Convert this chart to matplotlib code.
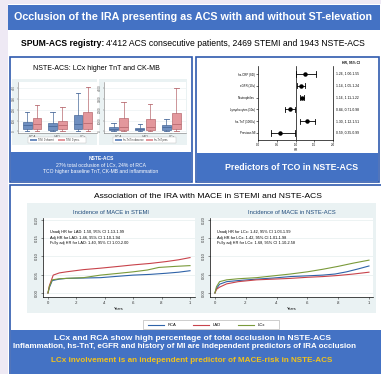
import matplotlib
matplotlib.use("Agg")
import matplotlib.pyplot as plt
from matplotlib.patches import Rectangle
from matplotlib.lines import Line2D

plt.rcParams['font.family'] = ['Liberation Sans', 'DejaVu Sans']

# ---------------- data ----------------
arteries = ['RCA', 'LAD', 'LCx']
# box stats per artery: [whisker low, q1, median, q3, whisker high]
ckmb_no_tco = [[0, 20, 55, 90, 180], [0, 15, 45, 80, 180], [0, 20, 65, 155, 350]]
ckmb_tco = [[0, 20, 65, 120, 245], [0, 20, 55, 100, 225], [0, 20, 80, 180, 410]]
tnt_no_tco = [[0, 90, 180, 360, 730], [0, 90, 180, 270, 640], [0, 90, 360, 550, 1100]]
tnt_tco = [[0, 90, 360, 1270, 2700], [0, 90, 360, 1100, 2550], [0, 180, 640, 1730, 4000]]
ckmb_ticks = [0, 100, 200, 300, 400]
tnt_ticks = [0, 1000, 2000, 3000, 4000]
box_legend_ckmb = ['TIMI 0 absent', 'TIMI 0 pres.']
box_legend_tnt = ['hs-TnT in absence', 'hs-TnT pres.']

forest_labels = ['hs-CRP (SD)', 'eGFR (10u)', 'Neutrophiles', 'Lymphocytes (10u)',
                 'hs-TnT (1000u)', 'Previous MI']
forest_hr = [1.26, 1.14, 1.16, 0.84, 1.30, 0.59]
forest_lo = [1.00, 1.05, 1.11, 0.71, 1.12, 0.35]
forest_hi = [1.55, 1.24, 1.22, 0.98, 1.51, 0.99]
forest_xticks = [0.0, 0.5, 1.0, 1.5, 2.0]

km_groups = ['RCA', 'LAD', 'LCx']
stemi_t_rca = [0, 0.01, 0.03, 0.08, 0.13, 0.25, 0.37, 0.5, 0.6, 0.72, 0.83, 0.92, 1.0]
stemi_y_rca = [0, 0.015, 0.034, 0.038, 0.040, 0.041, 0.042, 0.046, 0.049, 0.051, 0.054, 0.057, 0.061]
stemi_t_lad = [0, 0.01, 0.037, 0.08, 0.13, 0.25, 0.37, 0.5, 0.6, 0.72, 0.83, 0.92, 1.0]
stemi_y_lad = [0, 0.02, 0.049, 0.055, 0.058, 0.064, 0.068, 0.073, 0.077, 0.081, 0.086, 0.091, 0.097]
stemi_t_lcx = [0, 0.01, 0.03, 0.08, 0.13, 0.25, 0.37, 0.5, 0.6, 0.7, 0.78, 0.9, 1.0]
stemi_y_lcx = [0, 0.018, 0.036, 0.039, 0.040, 0.042, 0.049, 0.054, 0.058, 0.063, 0.070, 0.073, 0.075]
nste_t_rca = [0, 0.01, 0.03, 0.076, 0.15, 0.27, 0.38, 0.49, 0.6, 0.7, 0.78, 0.855, 0.93, 1.0]
nste_y_rca = [0, 0.012, 0.024, 0.031, 0.034, 0.038, 0.041, 0.045, 0.047, 0.049, 0.052, 0.058, 0.066, 0.074]
nste_t_lad = [0, 0.01, 0.03, 0.076, 0.15, 0.27, 0.38, 0.49, 0.6, 0.7, 0.8, 0.9, 1.0]
nste_y_lad = [0, 0.010, 0.016, 0.025, 0.031, 0.036, 0.038, 0.040, 0.043, 0.045, 0.048, 0.052, 0.057]
nste_t_lcx = [0, 0.01, 0.03, 0.076, 0.15, 0.27, 0.38, 0.49, 0.6, 0.7, 0.8, 0.9, 1.0]
nste_y_lcx = [0, 0.017, 0.031, 0.036, 0.039, 0.042, 0.047, 0.052, 0.058, 0.065, 0.073, 0.082, 0.090]
km_xticks = [0, 0.2, 0.4, 0.6, 0.8, 1.0]
km_xticklabels = ['0', '.2', '.4', '.6', '.8', '1']
km_yticks = [0.0, 0.05, 0.10, 0.15, 0.20]
stemi_notes = ['Unadj HR for LAD: 1.50, 95% CI 1.13-1.99',
               'Adj HR for LAD: 1.46, 95% CI 1.10-1.94',
               'Fully adj HR for LAD: 1.40, 95% CI 1.00-2.00']
nste_notes = ['Unadj HR for LCx: 1.42, 95% CI 1.03-1.99',
              'Adj HR for LCx: 1.42, 95% CI 1.01-1.98',
              'Fully adj HR for LCx: 1.68, 95% CI 1.10-2.58']

# ---------------- layout helpers ----------------
W, H = 381, 374
fig = plt.figure(figsize=(W / 100, H / 100), dpi=100)

BLUE = '#4472C4'
BORDER = '#2F5AAE'
LAV = '#EEE9F4'
STATA_BG = '#EAF2F3'
C_RCA = '#2F63A8'
C_LAD = '#C8434B'
C_LCX = '#7A9A3A'


def rect(x0, y0, x1, y1):
    return [x0 / W, 1 - y1 / H, (x1 - x0) / W, (y1 - y0) / H]


def box(x0, y0, x1, y1, fc='none', ec='none', lw=0, z=0):
    r = Rectangle((x0 / W, 1 - y1 / H), (x1 - x0) / W, (y1 - y0) / H,
                  transform=fig.transFigure, facecolor=fc, edgecolor=ec,
                  linewidth=lw, zorder=z)
    fig.patches.append(r)


def txt(x, y, s, **kw):
    return fig.text(x / W, 1 - y / H, s, ha=kw.pop('ha', 'center'), va=kw.pop('va', 'center'), **kw)


fig.patch.set_facecolor(LAV)
box(8, 0, W, H, fc='white')
box(8, 0, W, 4, fc=LAV)

# title bar
box(8, 5, 380, 30, fc=BLUE)
txt(193, 17.5, 'Occlusion of the IRA presenting as ACS with and without ST-elevation',
    color='white', fontsize=7.75, fontweight='bold')

# subtitle built from two runs
renderer = fig.canvas.get_renderer()
tb = txt(21, 43, 'SPUM-ACS registry:', ha='left', fontsize=6.2, fontweight='bold', color='black')
bb = tb.get_window_extent(renderer=renderer)
txt(bb.x1 + 1.5, 43, "4'412 ACS consecutive patients, 2469 STEMI and 1943 NSTE-ACS", ha='left',
    fontsize=6.2, color='black')

# panels
box(10, 57, 192, 182, fc='white', ec=BORDER, lw=1.2, z=1)
box(10.6, 152, 191.4, 181.4, fc=BLUE, z=1.1)
box(196, 57, 379, 182, fc='white', ec=BORDER, lw=1.2, z=1)
box(196.6, 153, 378.4, 181.4, fc=BLUE, z=1.1)
box(10, 185, 383, 376, fc='white', ec=BORDER, lw=1.2, z=1)
box(10.6, 330, 382, 375, fc=BLUE, z=1.1)

# ---------------- box plots ----------------
txt(96, 69, 'NSTE-ACS: LCx higher TnT and CK-MB', fontsize=5.0, zorder=3)
box(12, 79, 97, 145, fc=STATA_BG, z=1.5)
box(99, 79, 187, 145, fc=STATA_BG, z=1.5)


def boxpanel(r, s_no, s_yes, ticks, ylim):
    ax = fig.add_axes(rect(*r))
    ax.set_zorder(3)
    ax.set_facecolor('white')
    for i, (a, b) in enumerate(zip(s_no, s_yes)):
        for st, off, fc, ec in [(a, -0.19, '#6F8FC0', '#4A6A9A'), (b, 0.19, '#E3979C', '#B86A70')]:
            ax.bxp([dict(whislo=st[0], q1=st[1], med=st[2], q3=st[3], whishi=st[4], fliers=[])],
                   positions=[i + 1 + off], widths=0.34, patch_artist=True, showfliers=False,
                   boxprops=dict(facecolor=fc, edgecolor=ec, linewidth=0.5),
                   medianprops=dict(color=ec, linewidth=0.6),
                   whiskerprops=dict(color=ec, linewidth=0.5),
                   capprops=dict(color=ec, linewidth=0.6), capwidths=0.17)
    ax.set_xlim(0.45, 3.55)
    ax.set_ylim(*ylim)
    ax.set_yticks(ticks)
    ax.set_yticklabels([str(t) for t in ticks], rotation=90, va='center', fontsize=2.2)
    ax.set_xticks([1, 2, 3])
    ax.set_xticklabels(arteries, fontsize=2.6)
    ax.tick_params(length=1, width=0.3, pad=0.8, colors='#555555')
    for sp in ['top', 'right']:
        ax.spines[sp].set_visible(False)
    for sp in ['left', 'bottom']:
        ax.spines[sp].set_linewidth(0.4)
        ax.spines[sp].set_color('#777777')
    ax.yaxis.grid(True, color='#E6EEEF', linewidth=0.4)
    ax.set_axisbelow(True)
    return ax


boxpanel((18, 82, 97, 133), ckmb_no_tco, ckmb_tco, ckmb_ticks, (-15, 455))
boxpanel((104, 82, 186, 133), tnt_no_tco, tnt_tco, tnt_ticks, (-150, 4550))

for (lx0, lx1, leg) in [(28, 86, box_legend_ckmb), (113, 176, box_legend_tnt)]:
    box(lx0, 137, lx1, 143, fc='white', ec='#BBBBBB', lw=0.3, z=3)
    mid = (lx0 + lx1) / 2
    box(lx0 + 2, 138.6, lx0 + 9, 141.4, fc='#6F8FC0', z=3.2)
    txt(lx0 + 10, 140, leg[0], ha='left', fontsize=1.8, color='#333333', zorder=3.2)
    box(mid + 1, 138.6, mid + 8, 141.4, fc='#E3979C', z=3.2)
    txt(mid + 9, 140, leg[1], ha='left', fontsize=1.8, color='#333333', zorder=3.2)

txt(101, 158.5, 'NSTE-ACS', fontsize=3.6, fontweight='bold', color='white', zorder=3)
txt(101, 165, '27% total occlusion of LCx, 24% of RCA', fontsize=3.6, color='white', zorder=3)
txt(101, 171.5, 'TCO higher baseline TnT, CK-MB and inflammation', fontsize=3.6, color='white', zorder=3)

# ---------------- forest plot ----------------
axf = fig.add_axes(rect(258, 66, 333, 140))
axf.set_zorder(3)
n = len(forest_labels)
ypos = list(range(n, 0, -1))
for yv, hr, lo, hi in zip(ypos, forest_hr, forest_lo, forest_hi):
    axf.plot([lo, hi], [yv, yv], color='black', lw=0.6)
    axf.plot([lo, lo], [yv - 0.22, yv + 0.22], color='black', lw=0.6)
    axf.plot([hi, hi], [yv - 0.22, yv + 0.22], color='black', lw=0.6)
    axf.plot([hr], [yv], 'o', color='black', ms=2.2)
axf.axvline(1.0, color='black', lw=0.5)
axf.set_xlim(0, 2)
axf.set_ylim(0.4, n + 0.68)
axf.set_yticks(ypos)
axf.set_yticklabels(forest_labels, fontsize=2.1)
axf.set_xticks(forest_xticks)
axf.set_xticklabels(['%.1f' % v for v in forest_xticks], fontsize=2.2)
axf.set_xlabel('HR', fontsize=2.2, labelpad=1)
axf.tick_params(length=1.2, width=0.4, pad=1)
axf.spines['top'].set_visible(False)
for sp in ['left', 'right', 'bottom']:
    axf.spines[sp].set_linewidth(0.5)
txt(342, 62, 'HR, 95% CI', ha='left', fontsize=2.4, fontweight='bold', zorder=3)
for yv, hr, lo, hi in zip(ypos, forest_hr, forest_lo, forest_hi):
    ypix = 140 - (yv - 0.4) / (n + 0.68 - 0.4) * (140 - 66)
    txt(336, ypix, '%.2f, %.2f-%.2f' % (hr, lo, hi), ha='left', fontsize=2.4, zorder=3)

txt(292, 167.5, 'Predictors of TCO in NSTE-ACS', fontsize=6.3, fontweight='bold', color='white', zorder=3)

# ---------------- KM curves ----------------
txt(208, 196, 'Association of the IRA with MACE in STEMI and NSTE-ACS', fontsize=6.1, zorder=3)
box(27, 203, 376, 313, fc=STATA_BG, z=1.5)


def kmpanel(r, xlim, title, tx, curves, notes):
    ax = fig.add_axes(rect(*r))
    ax.set_zorder(3)
    for t, y, c in curves:
        ax.plot(t, y, color=c, lw=0.8)
    ax.set_xlim(*xlim)
    ax.set_ylim(-0.011, 0.2055)
    ax.set_xticks(km_xticks)
    ax.set_xticklabels(km_xticklabels, fontsize=3)
    ax.set_yticks(km_yticks)
    ax.set_yticklabels(['%.2f' % v for v in km_yticks], rotation=90, va='center', fontsize=3)
    ax.set_xlabel('Years', fontsize=2.8, labelpad=1)
    ax.tick_params(length=1.5, width=0.4, pad=1.5, colors='#333333')
    for sp in ['top', 'right']:
        ax.spines[sp].set_visible(False)
    for sp in ['left', 'bottom']:
        ax.spines[sp].set_linewidth(0.5)
    ax.yaxis.grid(True, color='#E6EEEF', linewidth=0.5)
    ax.set_axisbelow(True)
    for i, s in enumerate(notes):
        ax.text(0.015, 0.168 - i * 0.016, s, fontsize=2.8, va='center', ha='left')
    txt(tx, 212.5, title, fontsize=4.2, color='#1E4A7A', zorder=3)
    return ax


kmpanel((43, 218, 195, 297), (-0.035, 1.035), 'Incidence of MACE in STEMI', 111,
        [(stemi_t_rca, stemi_y_rca, C_RCA), (stemi_t_lad, stemi_y_lad, C_LAD),
         (stemi_t_lcx, stemi_y_lcx, C_LCX)], stemi_notes)
kmpanel((210, 218, 373, 297), (-0.032, 1.026), 'Incidence of MACE in NSTE-ACS', 292,
        [(nste_t_rca, nste_y_rca, C_RCA), (nste_t_lad, nste_y_lad, C_LAD),
         (nste_t_lcx, nste_y_lcx, C_LCX)], nste_notes)

# legend
box(143, 320, 279, 329, fc='white', ec='#AAAAAA', lw=0.4, z=3)
for i, (g, c) in enumerate(zip(km_groups, [C_RCA, C_LAD, C_LCX])):
    x0 = 148 + i * 45
    fig.lines.append(Line2D([x0 / W, (x0 + 16) / W], [1 - 324.5 / H] * 2, color=c, lw=0.8,
                            transform=fig.transFigure, zorder=3.2))
    txt(x0 + 20, 324.5, g, ha='left', fontsize=3, zorder=3.2)

txt(193, 338, 'LCx and RCA show high percentage of total occlusion in NSTE-ACS',
    fontsize=6.1, fontweight='bold', color='white', zorder=3)
txt(13, 346, 'Inflammation, hs-TnT, eGFR and history of MI are independent predictors of IRA occlusion',
    ha='left', fontsize=5.75, fontweight='bold', color='white', zorder=3)
txt(192, 361, 'LCx involvement is an independent predictor of MACE-risk in NSTE-ACS',
    fontsize=5.9, fontweight='bold', color='#F2C21B', zorder=3)

fig.savefig('out.png', dpi=100, facecolor=fig.get_facecolor())
